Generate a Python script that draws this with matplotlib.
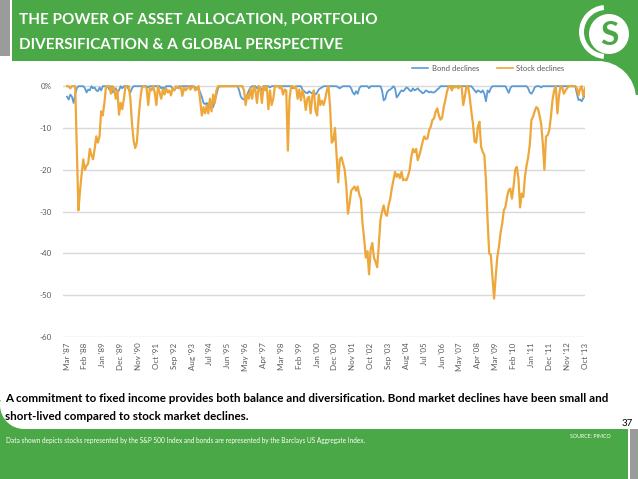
import matplotlib.pyplot as plt
from matplotlib.patches import Rectangle, Circle, Wedge
import numpy as np

plt.rcParams['font.family'] = ['Lato', 'DejaVu Sans']

# monthly drawdowns in %, Mar '87 .. Oct '13 (one row per calendar year)
stock_declines = [
    0, 0, -0.5, 0, 0, 0, -15, -29.7, -25, -21,
    -17.5, -20, -19, -18.5, -15, -16.5, -17.5, -15, -12, -13.5, -12, -6,
    -7, -4, 0, 0, 0, -1.8, 0, -0.5, -3, -1, -6.8, -4,
    -5.5, -3, 0, 0, 0, -3, -9, -13, -14.8, -13.5, -8, -3.5,
    -0.5, 0, 0, -0.5, -4.5, -0.5, -1, 0, -1.5, -4.5, 0, -1.5,
    -3, -0.8, -2, -0.5, -1.5, -1, -2.2, -0.5, -1, 0, -0.3, -0.5,
    0, -2.3, -0.3, -1, -0.5, 0, -0.8, -0.2, 0, -1, -0.5, 0,
    -3.5, -7, -5, -6.5, -4.5, -6.5, -3, -6, -2, -4, -1, 0,
    0, 0, 0, 0, 0, 0, 0, 0, 0, 0, 0, 0,
    0, 0, 0, -1, -4.5, -2, -3, -0.5, -3, 0, -1, -4,
    0, -0.5, -4, 0, -1, 0, -5.5, -1, -4.5, -3, 0, 0,
    0, -0.5, 0, -2, -0.8, -1, -15.4, -3, 0, 0, -0.5, 0,
    -3, -0.8, -3.4, -1, -2.5, -5.7, -3, -2.5, -6.5, -2.5, -1, -5.7,
    -7, -2, -4.5, -3.5, -4.5, -3, -1, 0, -5, -13.5, -13, -10,
    -16.5, -23, -17.5, -17, -18.5, -20, -24, -30.5, -28, -25, -24.5, -24,
    -25, -24, -26, -27, -33, -36.5, -41, -39.5, -45, -39, -37.5, -41,
    -42, -43.3, -38, -32, -30, -28.5, -30.5, -31, -28.5, -27, -24.5, -22.5,
    -20.5, -21.7, -21, -22, -20.5, -22.5, -22.3, -22.5, -21.5, -20, -17, -15,
    -15.8, -15, -17.7, -16.5, -15, -13.3, -12, -12.6, -12.5, -10.5, -9.7, -8.1,
    -7.7, -6.1, -5.3, -7, -8, -7.5, -5, -3.3, -1.3, 0, 0, -1,
    0, -0.3, 0, -0.5, 0, 0, -4.5, -2.5, 0, 0, -2.6, -6,
    -9, -13.3, -13.5, -9.7, -8.5, -14.5, -15.7, -16.5, -22.5, -32, -40, -40.4,
    -45.6, -50.8, -45.6, -40.8, -38.4, -35, -32.9, -29.7, -28.9, -26.5, -24.9, -24.5,
    -26.9, -24, -20, -19.3, -22, -29, -25.7, -26.5, -21.7, -19, -17, -14,
    -8.1, -7.3, -6, -5, -5.3, -7, -9, -13.7, -20, -12, -11.7, -10.5,
    -7.3, -3.3, -1, 0, -6.5, -2.2, 0, -0.3, -1.8, -1, -0.5, 0,
    0, 0, 0, 0, -0.5, -2.2, -0.5, 0, -2.5, -0.5,
]

bond_declines = [
    -2.5, -3.2, -2, -2.5, -4, -2, -0.5, 0, 0, 0,
    0, -0.5, -1.5, -0.8, -1, 0, -0.5, -0.3, -1, -1.2, -0.3, -1,
    0, 0, 0, 0, -0.8, 0, -1.5, -1, -0.5, -1.5, -1, 0,
    -0.5, 0, 0, 0, -0.8, -1.5, -0.5, 0, 0, 0, 0, 0,
    0, 0, 0, 0, -0.3, 0, 0, 0, 0, 0, 0, 0,
    -0.5, -0.3, -0.6, 0, 0, 0, 0, -0.6, -1, -0.4, -0.3, 0,
    0, 0, 0, 0, 0, 0, 0, 0, 0, -0.3, -0.8, -0.5,
    -1.5, -2.5, -4, -4.3, -4, -4.5, -3.8, -4.5, -5, -3.5, -2, -0.5,
    0, 0, 0, 0, 0, 0, 0, 0, 0, 0, 0, 0,
    -1, -2.5, -3, -3.2, -2.8, -2, -1, -0.3, 0, 0, 0, -0.5,
    0, -0.3, -1, 0, 0, 0, 0, -0.3, 0, 0, 0, 0,
    0, 0, 0, 0, 0, 0, 0, 0, 0, -0.5, -0.3, 0,
    0, 0, 0, -0.8, -1.2, -1.5, -1.7, -1.2, -1.5, -1.7, -1.5, -2,
    -1.5, -0.8, -0.5, -0.3, 0, 0, 0, 0, 0, 0, 0, 0,
    0, -0.3, -0.5, -0.2, 0, 0, 0, 0, 0, -0.5, -1.5, -2,
    -1.2, -1.8, -0.5, 0, 0, 0, 0, 0, -0.5, 0, 0, 0,
    0, 0, 0, 0, -1, -3.4, -3, -1.5, -1, -0.8, -0.5, 0,
    -0.5, -2.7, -2.2, -1.5, -1, -1.2, -0.8, -0.3, -0.5, -1, -1.2, -0.5,
    -1, -0.8, -0.5, -1, -1.3, -1.7, -1.5, -1, -1.2, -1.5, -1.3, -1.5,
    -1.5, -1.2, -0.8, -0.5, 0, 0, 0, 0, 0, 0, 0, 0,
    0, 0, 0, 0, 0, 0, 0, 0, 0, 0, 0, 0,
    -0.5, -1, -1.5, -1, -1.2, -1.5, -1, -1.8, -3.6, -1, -1.5, -0.5,
    0, 0, 0, 0, 0, 0, 0, 0, 0, -0.8, -1.6, -0.5,
    0, 0, 0, 0, 0, 0, 0, 0, 0, 0, -0.5, -1.5,
    -1.8, -1.2, -0.3, 0, 0, 0, -0.3, 0, 0, 0, 0, 0,
    0, 0, 0, 0, 0, 0, 0, 0, 0, 0, 0, 0,
    0, 0, 0, 0, -1.8, -3.3, -3.2, -3.6, -2.8, -2.3,
]

tick_labels = ["Mar '87", "Feb '88", "Jan '89", "Dec '89", "Nov '90", "Oct '91",
               "Sep '92", "Aug '93", "Jul '94", "Jun '95", "May '96", "Apr '97",
               "Mar '98", "Feb '99", "Jan '00", "Dec '00", "Nov '01", "Oct '02",
               "Sep '03", "Aug '04", "Jul '05", "Jun '06", "May '07", "Apr '08",
               "Mar '09", "Feb '10", "Jan '11", "Dec '11", "Nov '12", "Oct '13"]
y_ticks = [0, -10, -20, -30, -40, -50, -60]
y_labels = ['0%', '-10', '-20', '-30', '-40', '-50', '-60']

GREEN = '#4ba846'
BLUE = '#5b9bd5'
ORANGE = '#eea73a'
GREY_TXT = '#595959'

W, H = 638, 479
fig = plt.figure(figsize=(W / 100, H / 100), dpi=100)

# slide background, drawn in pixel coordinates
bg = fig.add_axes([0, 0, 1, 1])
bg.set_xlim(0, W)
bg.set_ylim(H, 0)
bg.axis('off')
bg.add_patch(Rectangle((0, 0), 10, 56, color='#9b9b9b', lw=0))
bg.add_patch(Rectangle((12, 0), W - 12, 61, color=GREEN, lw=0))
bg.add_patch(Rectangle((598, 55), 40, 40, color=GREEN, lw=0))
bg.add_patch(Circle((598, 99), 38, color='white', lw=0))
bg.add_patch(Rectangle((0, 429), 628, 50, color=GREEN, lw=0))
bg.add_patch(Rectangle((630, 429), 8, 50, color='#9b9b9b', lw=0))
bg.add_patch(Rectangle((0, 400), 24, 30, color=GREEN, lw=0))
bg.add_patch(Circle((24, 405), 24, color='white', lw=0))

# logo
bg.add_patch(Wedge((606, 32), 27, 95, 265, width=5, color='white', lw=0))
bg.add_patch(Circle((609, 34), 20, color='white', lw=0))
bg.text(609, 35, 'S', color=GREEN, fontsize=24, fontweight='bold',
        ha='center', va='center')

bg.text(19, 20, 'THE POWER OF ASSET ALLOCATION, PORTFOLIO', color='white',
        fontsize=11, fontweight='bold', va='center')
bg.text(19, 45, 'DIVERSIFICATION & A GLOBAL PERSPECTIVE', color='white',
        fontsize=11, fontweight='bold', va='center')

bg.text(5, 399, 'A commitment to fixed income provides both balance and diversification. '
        'Bond market declines have been small and', fontsize=8.35, fontweight='bold',
        va='center')
bg.text(5, 417, 'short-lived compared to stock market declines.', fontsize=8.35,
        fontweight='bold', va='center')
bg.text(633, 424, '37', fontsize=7, va='center', ha='right')
bg.text(6, 441, 'Data shown depicts stocks represented by the S&P 500 Index and bonds '
        'are represented by the Barclays US Aggregate Index.', color='white',
        fontsize=4.7, va='center')
bg.text(611, 437, 'SOURCE: PIMCO', color='white', fontsize=3.8, va='center', ha='right')

# legend
bg.plot([412, 428], [68, 68], color=BLUE, lw=1.2)
bg.text(432, 68, 'Bond declines', color=GREY_TXT, fontsize=5.5, va='center')
bg.plot([497, 513], [68, 68], color=ORANGE, lw=1.2)
bg.text(516, 68, 'Stock declines', color=GREY_TXT, fontsize=5.5, va='center')

# chart
ax = fig.add_axes([63 / W, 1 - 337 / H, 522 / W, 253.3 / H])
ax.set_facecolor('none')
x = np.arange(len(stock_declines))
ax.plot(x, bond_declines, color=BLUE, lw=1.3)
ax.plot(x, stock_declines, color=ORANGE, lw=1.6)

ax.set_xlim(-2.5, 319)
ax.set_ylim(-60, 0.6)
ax.set_yticks(y_ticks)
ax.set_yticklabels(y_labels)
ax.set_xticks(range(0, len(stock_declines), 11))
ax.set_xticklabels(tick_labels, rotation=90)
ax.tick_params(length=0, labelsize=5.8, labelcolor=GREY_TXT)
ax.tick_params(axis='y', pad=8)
ax.tick_params(axis='x', pad=4)
ax.grid(axis='y', color='#d9d9d9', lw=1)
ax.set_axisbelow(True)
for s in ax.spines.values():
    s.set_visible(False)

fig.savefig('out.png', dpi=100)
